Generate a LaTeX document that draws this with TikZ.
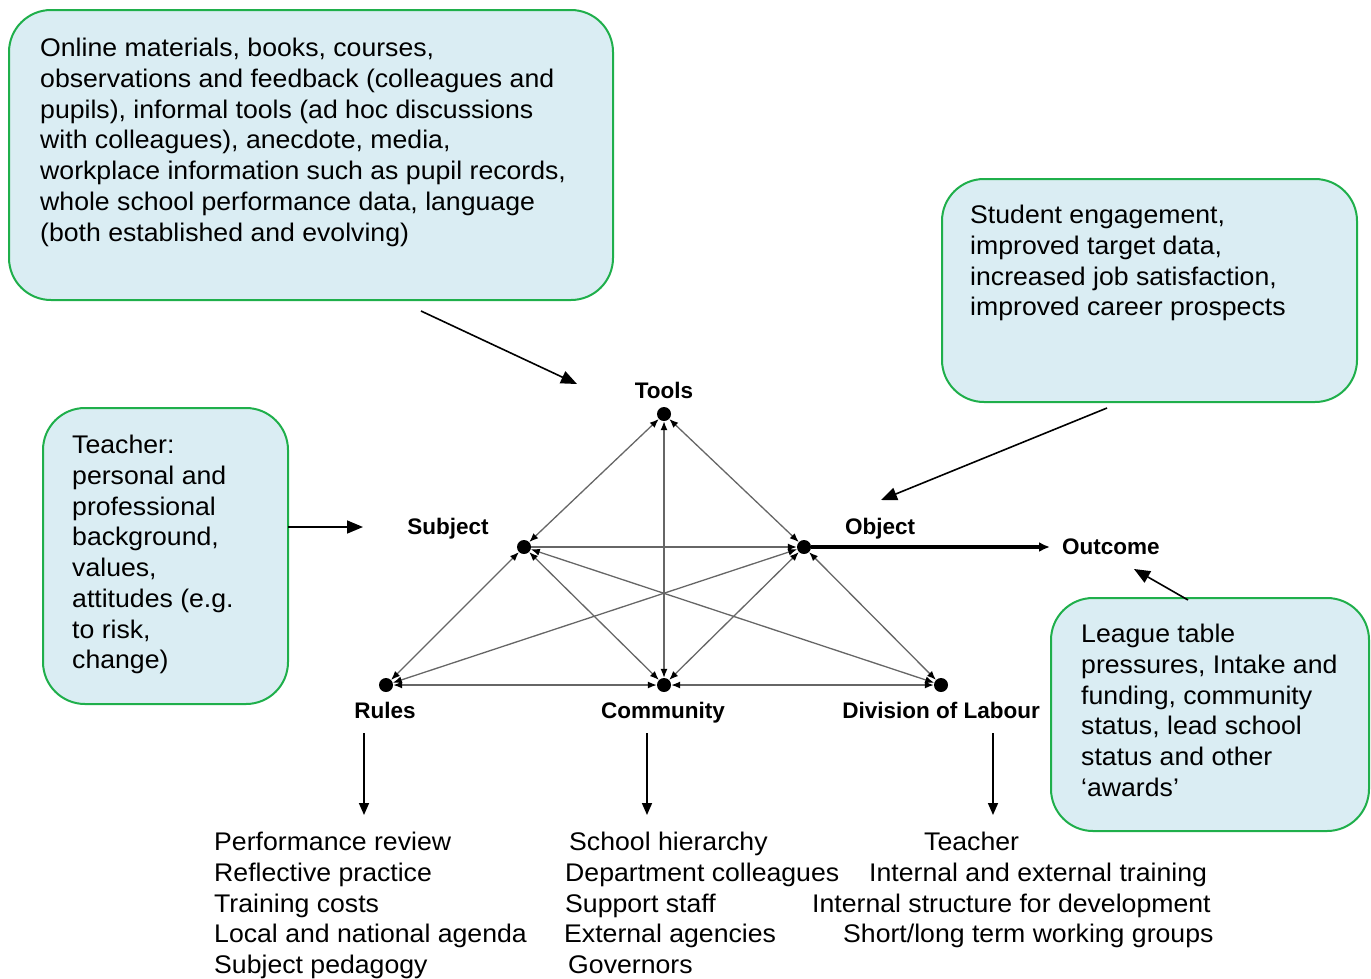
\documentclass[tikz,border=0pt]{standalone}
\usepackage{fontspec}
\setmainfont{Liberation Sans}
\newfontfamily\boxfont{Liberation Sans}[FakeStretch=1.045]
\usetikzlibrary{arrows.meta}
\definecolor{boxfill}{HTML}{DAEDF3}
\definecolor{boxline}{HTML}{1FAF4B}
\tikzset{
  box/.style={draw=boxline, line width=2pt, fill=boxfill, rounded corners=42pt, rectangle, inner sep=0pt},
  txt/.style={font=\boxfont\fontsize{25.5}{30.75}\selectfont, inner sep=0pt, align=left},
  lab/.style={font=\fontsize{22.5}{24}\selectfont\bfseries, inner sep=0pt, text=black},
  dot/.style={circle, fill=black, inner sep=0pt, minimum size=14pt},
  conn/.style={draw=black!60, line width=1.3pt, >={Latex[length=9pt,width=7pt,color=black]}},
  callout/.style={draw=black, line width=1.6pt, -{Triangle[length=16pt,width=13pt]}},
  downarrow/.style={draw=black, line width=1.6pt, -{Triangle[length=12pt,width=10pt]}}
}
\begin{document}
\begin{tikzpicture}[x=1pt,y=-1pt]
\useasboundingbox (0,0) rectangle (1371,978);
% boxes
\node[box, minimum width=604pt, minimum height=290pt] (b1) at (311,155) {};
\node[box, minimum width=415pt, minimum height=223pt] (b2) at (1149.5,290.5) {};
\node[box, minimum width=245pt, minimum height=296pt] (b3) at (165.5,556) {};
\node[box, minimum width=318pt, minimum height=233pt] (b4) at (1210,714.5) {};
% box texts
\node[txt, anchor=north west] (t1) at (40,38) {Online materials, books, courses,\\observations and feedback (colleagues and\\pupils), informal tools (ad hoc discussions\\with colleagues), anecdote, media,\\workplace information such as pupil records,\\whole school performance data, language\\(both established and evolving)};
\node[txt, anchor=north west] (t2) at (970,205) {Student engagement,\\improved target data,\\increased job satisfaction,\\improved career prospects};
\node[txt, anchor=north west] (t3) at (72,435) {Teacher:\\personal and\\professional\\background,\\values,\\attitudes (e.g.\\to risk,\\change)};
\node[txt, anchor=north west] (t4) at (1081,624) {League table\\pressures, Intake and\\funding, community\\status, lead school\\status and other\\‘awards’};
% dots
\node[dot] (T) at (664,414) {};
\node[dot] (S) at (524,547) {};
\node[dot] (O) at (804,547) {};
\node[dot] (R) at (386,685) {};
\node[dot] (C) at (664,685) {};
\node[dot] (D) at (941,685) {};
% labels
\node[lab, anchor=base] (lT) at (664,398.5) {Tools};
\node[lab, anchor=base] (lS) at (448,534.5) {Subject};
\node[lab, anchor=base] (lO) at (880,534.5) {Object};
\node[lab, anchor=base] (lR) at (385,718.5) {Rules};
\node[lab, anchor=base] (lC) at (663,718.5) {Community};
\node[lab, anchor=base] (lD) at (941,718.5) {Division of Labour};
\node[lab, anchor=west] (lOut) at (1062,547) {Outcome};
% connectors
\draw[conn,<->] (T) -- (S);
\draw[conn,<->] (T) -- (O);
\draw[conn,<->] (T) -- (C);
\draw[conn,->] (S) -- (O);
\draw[conn,<->] (S) -- (R);
\draw[conn,<->] (S) -- (C);
\draw[conn,<->] (S) -- (D);
\draw[conn,<->] (O) -- (R);
\draw[conn,<->] (O) -- (C);
\draw[conn,<->] (O) -- (D);
\draw[conn,<->] (R) -- (C);
\draw[conn,<->] (C) -- (D);
\draw[line width=3.5pt, -{Latex[length=11pt,width=10pt]}] (O) -- ([xshift=-12pt]lOut.west);
% callout arrows
\coordinate (a1s) at (421,311); \coordinate (a1e) at (577,384);
\coordinate (a2s) at (1107,408); \coordinate (a2e) at (881,500);
\coordinate (a3s) at (288,527); \coordinate (a3e) at (363,527);
\coordinate (a4s) at (1188,600); \coordinate (a4e) at (1134,569);
\coordinate (a5s) at (364,733); \coordinate (a5e) at (364,815);
\coordinate (a6s) at (647,733); \coordinate (a6e) at (647,815);
\coordinate (a7s) at (993,733); \coordinate (a7e) at (993,815);
\draw[callout] (a1s) -- (a1e);
\draw[callout] (a2s) -- (a2e);
\draw[callout] (a3s) -- (a3e);
\draw[callout] (a4s) -- (a4e);
\draw[downarrow] (a5s) -- (a5e);
\draw[downarrow] (a6s) -- (a6e);
\draw[downarrow] (a7s) -- (a7e);
% bottom lists
\node[txt, anchor=north west] (rl) at (214,832) {Performance review\\Reflective practice\\Training costs\\Local and national agenda\\Subject pedagogy};
\node[txt, anchor=base west] (c1) at (569,850.5) {School hierarchy};
\node[txt, anchor=base west] (c2) at (565,881.5) {Department colleagues};
\node[txt, anchor=base west] (c3) at (565,912.5) {Support staff};
\node[txt, anchor=base west] (c4) at (564,942.5) {External agencies};
\node[txt, anchor=base west] (c5) at (568,973.5) {Governors};
\node[txt, anchor=base west] (d1) at (924,850.5) {Teacher};
\node[txt, anchor=base west] (d2) at (869,881.5) {Internal and external training};
\node[txt, anchor=base west] (d3) at (812,912.5) {Internal structure for development};
\node[txt, anchor=base west] (d4) at (843,942.5) {Short/long term working groups};
\end{tikzpicture}
\end{document}
